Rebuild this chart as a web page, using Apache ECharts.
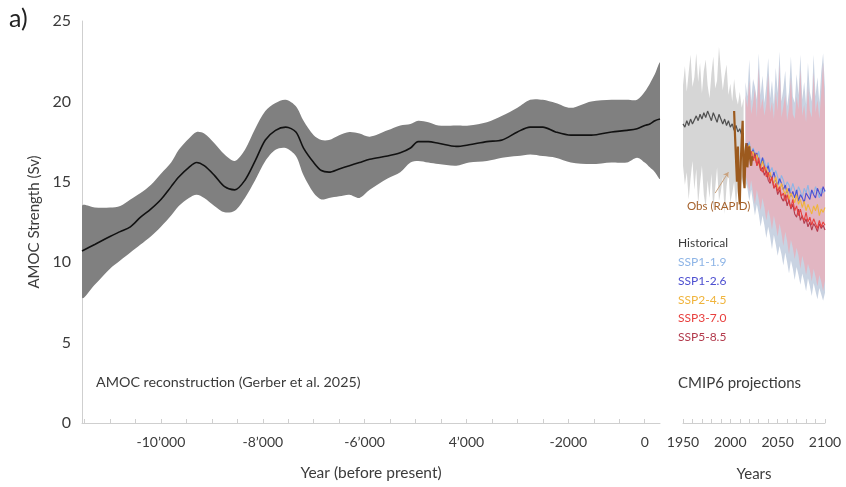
<!DOCTYPE html>
<html>
<head>
<meta charset="utf-8">
<script src="https://cdn.jsdelivr.net/npm/echarts@6/dist/echarts.min.js"></script>
<style>
  html, body { margin: 0; padding: 0; background: #fff; }
  #chart { width: 846px; height: 487px; }
</style>
</head>
<body>
<div id="chart"></div>
<script>
// ---- Holocene AMOC reconstruction (years before present, Sv) ----
const recYears = [-11550,-11300,-11000,-10800,-10600,-10400,-10200,-10000,-9800,-9650,
  -9450,-9300,-9150,-8950,-8750,-8550,-8350,-8150,-7950,-7750,
  -7550,-7350,-7200,-7000,-6850,-6700,-6500,-6300,-6100,-5900,
  -5550,-5300,-5100,-4950,-4750,-4550,-4200,-3950,-3600,-3300,
  -3000,-2750,-2500,-2250,-1950,-1550,-1150,-850,-650,-500,
  -400,-300,-200];
const recMean = [10.7,11.1,11.6,11.9,12.2,12.8,13.3,13.9,14.7,15.3,
  15.9,16.2,16.0,15.4,14.7,14.5,15.1,16.3,17.6,18.2,
  18.4,18.1,17.1,16.2,15.7,15.6,15.8,16.0,16.2,16.4,
  16.6,16.8,17.1,17.5,17.5,17.4,17.2,17.3,17.5,17.6,
  18.1,18.4,18.4,18.1,17.9,17.9,18.1,18.2,18.3,18.5,
  18.6,18.8,18.9];
const recUpper = [13.5,13.4,13.4,13.5,13.9,14.3,14.8,15.5,16.2,17.0,
  17.7,18.1,18.0,17.4,16.7,16.3,17.0,18.3,19.4,19.9,
  20.1,19.7,18.8,17.9,17.6,17.6,17.9,18.1,18.0,17.8,
  18.2,18.5,18.6,18.8,18.7,18.5,18.5,18.5,18.7,19.1,
  19.6,20.1,20.1,19.9,19.6,20.0,20.1,20.1,20.1,20.6,
  21.1,21.7,22.4];
const recLower = [7.8,8.6,9.6,10.1,10.6,11.1,11.6,12.2,12.9,13.5,
  14.0,14.2,14.0,13.5,13.1,13.2,14.0,15.1,16.3,17.0,
  17.1,16.6,15.4,14.3,13.9,14.0,14.1,14.2,14.0,14.5,
  15.2,15.6,16.2,16.3,16.2,16.1,16.0,16.2,16.3,16.5,
  16.6,16.7,16.6,16.5,16.2,16.1,16.2,16.2,16.5,16.2,
  15.9,15.6,15.2];

// tick labels of the reconstruction axis
const recTickValues = [-10000,-8000,-6000,-4000,-2000,-500];
const recTickLabels = ['-10\u2019000','-8\u2019000','-6\u2019000','4\u2019000','-2000','0'];

// ---- CMIP6 historical run (1950-2014, every 2 years) ----
const histMean = [18.6,18.4,18.8,18.5,18.9,18.6,18.7,19.1,18.8,19.2,
  18.9,19.3,19.0,19.4,19.1,18.8,19.3,19.0,18.7,19.2,
  18.9,18.6,18.9,18.5,18.8,18.4,18.6,18.2,18.5,18.1,
  18.3,17.9,18.0];
const histUpper = [21.0,22.2,20.6,21.8,22.9,20.9,21.5,23.0,21.2,22.4,
  20.5,21.9,22.6,21.0,20.2,21.7,22.8,20.8,21.3,23.4,
  22.0,20.7,21.6,22.3,20.4,21.1,20.0,21.4,20.3,19.8,
  20.6,19.6,20.2];
const histLower = [16.0,14.8,15.6,13.9,15.2,16.3,14.5,15.8,13.6,14.9,
  16.0,14.2,13.4,15.1,14.0,15.5,13.2,14.6,15.9,13.8,
  14.4,15.3,13.0,14.7,15.6,13.7,14.3,15.0,13.5,14.8,
  14.1,15.2,14.6];

// ---- RAPID array observations (2004-2023, annual) ----
const rapidObs = [19.4,17.8,16.4,15.0,17.2,14.4,13.6,16.2,17.6,18.8,
  15.3,14.6,16.9,17.4,15.9,16.8,17.2,16.4,16.0,16.6];

// ---- CMIP6 scenario ensemble means (2016-2100, every 2 years) ----
const ssp119 = [17.3,17.0,17.5,16.7,17.1,16.8,16.4,16.9,16.1,16.5,
  16.3,15.8,16.2,15.6,15.9,15.4,15.7,15.3,14.9,15.4,
  15.1,14.6,15.0,14.8,14.4,14.9,14.5,14.2,14.7,14.4,
  14.0,14.6,14.3,14.8,14.1,14.5,14.2,14.7,14.4,14.0,
  14.6,14.3,14.5];
const ssp126 = [17.1,17.4,16.9,16.6,17.0,16.5,16.8,16.2,16.0,16.5,
  15.9,15.7,16.0,15.4,15.2,15.6,15.1,14.8,15.2,14.9,
  14.5,14.8,14.3,14.6,14.1,14.4,14.0,14.5,13.8,14.2,
  14.0,13.7,14.3,14.1,13.9,14.5,14.2,14.0,14.6,14.3,
  14.1,14.7,14.4];
const ssp245 = [17.0,16.8,17.3,16.6,16.9,16.3,16.7,16.1,15.8,16.3,
  15.7,15.9,15.3,15.6,15.1,14.9,15.3,14.7,14.4,14.9,
  14.5,14.2,14.6,13.9,14.3,14.0,13.7,14.2,13.6,13.9,
  13.4,13.8,13.2,13.6,13.3,13.0,13.5,13.2,13.6,12.9,
  13.3,13.1,13.4];
const ssp370 = [16.9,17.2,16.7,16.9,16.4,16.6,16.0,16.5,15.8,15.6,
  16.0,15.3,15.6,15.0,15.3,14.6,14.9,14.4,14.7,14.1,
  14.3,13.8,14.2,13.7,13.4,13.9,13.2,13.5,12.9,13.3,
  12.8,12.6,13.1,12.5,12.8,12.3,12.7,12.4,12.1,12.6,
  12.2,12.5,12.3];
const ssp585 = [17.0,16.7,17.1,16.5,16.3,16.8,16.0,16.3,15.7,15.9,
  15.4,15.7,15.1,14.9,15.3,14.6,14.8,14.2,14.5,14.0,
  13.8,14.2,13.5,13.9,13.3,13.6,13.0,12.8,13.3,12.6,
  12.9,12.4,12.7,12.2,12.5,12.0,12.4,12.2,11.9,12.4,
  12.1,12.3,12.0];

// scenario spread envelopes (2016-2100): low-emission and high-emission ranges
const lowUpper = [21.2,20.3,22.6,20.0,21.4,20.9,20.1,23.0,20.4,21.6,
  19.9,21.0,22.7,20.2,21.3,19.8,22.1,20.5,23.1,20.0,
  20.8,21.9,19.7,20.6,22.8,20.3,19.9,21.7,20.4,22.9,
  20.1,21.2,19.8,22.4,20.6,20.0,22.9,20.3,21.5,19.9,
  21.8,23.0,20.8];
const lowLower = [15.0,14.6,13.8,14.5,13.7,12.9,13.6,13.0,12.2,12.9,
  12.3,11.5,12.2,11.6,10.8,11.7,11.1,10.4,11.0,10.5,
  9.8,10.6,10.0,9.3,10.1,9.6,8.9,9.7,9.2,8.6,
  9.3,8.8,8.2,9.0,8.5,7.9,8.7,8.2,7.7,8.4,
  8.0,7.6,8.1];
const highUpper = [20.4,19.6,21.3,19.2,19.9,20.8,19.0,22.1,19.5,20.2,
  19.1,19.8,21.7,19.3,20.0,18.9,20.6,19.4,22.3,19.0,
  19.7,20.4,18.8,19.6,21.5,19.2,18.9,20.3,19.5,22.0,
  19.1,19.8,18.7,20.9,19.4,19.0,21.8,19.3,20.1,18.9,
  20.5,22.4,19.6];
const highLower = [15.4,15.0,14.4,15.1,14.3,13.6,14.5,13.9,13.2,14.0,
  13.4,12.6,13.3,12.8,12.0,12.9,12.3,11.6,12.4,11.8,
  11.0,11.9,11.3,10.5,11.4,10.9,10.2,10.9,10.4,9.6,
  10.4,9.9,9.2,9.9,9.5,8.8,9.6,9.1,8.5,9.2,
  8.8,8.2,8.9];

const scenarioNames = ['Historical','SSP1-1.9','SSP1-2.6','SSP2-4.5','SSP3-7.0','SSP5-8.5'];
const scenarioColors = ['#3a3a3a','#8db4e6','#4d4fd0','#f0b43c','#e8403e','#b23a4c'];

// year sequences for the model runs
function yearsFrom(start, end, step) {
  const out = [];
  for (let y = start; y <= end; y += step) out.push(y);
  return out;
}
const histYears = yearsFrom(1950, 2014, 2);
const projYears = yearsFrom(2016, 2100, 2);
const rapidYears = yearsFrom(2004, 2023, 1);
const recTicks = yearsFrom(-11500, -500, 500);

const pairs = (xs, ys) => xs.map((x, i) => [x, ys[i]]);

const FONT = 'Lato';
const TXT = '#3b3b3b';

// shaded envelope: one polygon through the upper edge and back along the lower edge
function band(xs, hi, lo, color, axisIdx, smooth, z) {
  return {
    type: 'custom', xAxisIndex: axisIdx, yAxisIndex: axisIdx, silent: true, clip: true, z: z,
    data: xs.map((x, i) => [x, lo[i], hi[i]]),
    encode: { x: 0, y: [1, 2] },
    renderItem: function (params, api) {
      if (params.dataIndex !== 0) return null;
      const top = xs.map((x, i) => api.coord([x, hi[i]]));
      const bottom = xs.map((x, i) => api.coord([x, lo[i]])).reverse();
      return { type: 'polygon', shape: { points: top.concat(bottom), smooth: smooth },
        style: { fill: color } };
    }
  };
}

function thinLine(xs, ys, color, width, axisIdx, smooth, z) {
  return { type: 'line', xAxisIndex: axisIdx, yAxisIndex: axisIdx, data: pairs(xs, ys),
    symbol: 'none', smooth: smooth, lineStyle: { color: color, width: width }, z: z };
}

const chart = echarts.init(document.getElementById('chart'), null, { renderer: 'canvas' });

chart.setOption({
  animation: false,
  backgroundColor: '#ffffff',
  textStyle: { fontFamily: FONT },
  grid: [
    { left: 82, right: 186, top: 21, bottom: 64 },
    { left: 683, right: 21, top: 21, bottom: 64 }
  ],
  xAxis: [
    { type: 'value', gridIndex: 0, min: -11550, max: -200,
      name: 'Year (before present)', nameLocation: 'middle', nameGap: 42,
      nameTextStyle: { fontSize: 15.5, color: TXT, fontFamily: FONT },
      axisLine: { lineStyle: { color: '#cfcfcf', width: 1 } },
      axisTick: { show: true, length: 4, inside: true, customValues: recTicks,
        lineStyle: { color: '#cfcfcf' } },
      axisLabel: { customValues: recTickValues, fontSize: 14, color: TXT, margin: 12,
        formatter: v => recTickLabels[recTickValues.indexOf(v)] },
      splitLine: { show: false } },
    { type: 'value', gridIndex: 1, min: 1950, max: 2100, interval: 10,
      name: 'Years', nameLocation: 'middle', nameGap: 44,
      nameTextStyle: { fontSize: 15, color: TXT, fontFamily: FONT },
      axisLine: { lineStyle: { color: '#cfcfcf', width: 1 } },
      axisTick: { show: true, length: 4, inside: true, lineStyle: { color: '#cfcfcf' } },
      axisLabel: { customValues: [1950, 2000, 2050, 2100], fontSize: 14, color: TXT, margin: 12,
        formatter: v => String(v) },
      splitLine: { show: false } }
  ],
  yAxis: [
    { type: 'value', gridIndex: 0, min: 0, max: 25, interval: 5,
      name: 'AMOC Strength (Sv)', nameLocation: 'middle', nameGap: 38, nameRotate: 90,
      nameTextStyle: { fontSize: 15, color: TXT, fontFamily: FONT },
      axisLine: { show: true, lineStyle: { color: '#cfcfcf', width: 1 } },
      axisTick: { show: false },
      axisLabel: { fontSize: 16, color: TXT, margin: 11 },
      splitLine: { show: false } },
    { type: 'value', gridIndex: 1, min: 0, max: 25, interval: 5, show: false,
      splitLine: { show: false } }
  ],
  graphic: [
    { type: 'text', left: 9, top: 6, z: 10, style: { text: 'a)', font: '25px ' + FONT, fill: '#222' } },
    { type: 'text', left: 96, top: 375, z: 10, style: { text: 'AMOC reconstruction (Gerber et al. 2025)',
      font: '14.3px ' + FONT, fill: TXT } },
    { type: 'text', left: 678, top: 376, z: 10, style: { text: 'CMIP6 projections',
      font: '15px ' + FONT, fill: TXT } },
    { type: 'text', left: 687, top: 200, z: 10, style: { text: 'Obs (RAPID)',
      font: '11.5px ' + FONT, fill: '#a4602a' } }
  ].concat(scenarioNames.map((n, i) => ({
    type: 'text', left: 678, top: 237 + i * 18.9, z: 10,
    style: { text: n, font: '12px ' + FONT, fill: scenarioColors[i] }
  }))),
  series: [
    band(recYears, recUpper, recLower, '#808080', 0, 0.3, 1),
    thinLine(recYears, recMean, '#111111', 1.6, 0, 0.3, 4),
    band(projYears, lowUpper, lowLower, '#c9d3e2', 1, 0, 1),
    band(projYears, highUpper, highLower, '#e2b6c2', 1, 0, 2),
    band(histYears, histUpper, histLower, '#d6d6d6', 1, 0, 2),
    thinLine(histYears, histMean, '#505050', 1.2, 1, false, 4),
    thinLine(projYears, ssp119, scenarioColors[1], 1.1, 1, false, 4),
    thinLine(projYears, ssp126, scenarioColors[2], 1.1, 1, false, 4),
    thinLine(projYears, ssp245, scenarioColors[3], 1.1, 1, false, 4),
    thinLine(projYears, ssp585, scenarioColors[5], 1.1, 1, false, 4),
    thinLine(projYears, ssp370, scenarioColors[4], 1.1, 1, false, 4),
    Object.assign(thinLine(rapidYears, rapidObs, '#9c5a1e', 2.2, 1, false, 6), {
      markLine: {
        silent: true, symbol: ['none', 'arrow'], symbolSize: 5,
        label: { show: false },
        lineStyle: { color: '#c9a27e', width: 1, type: 'solid' },
        data: [[{ coord: [1984, 14.3] }, { coord: [1998, 15.6] }]]
      }
    })
  ]
});
</script>
</body>
</html>
